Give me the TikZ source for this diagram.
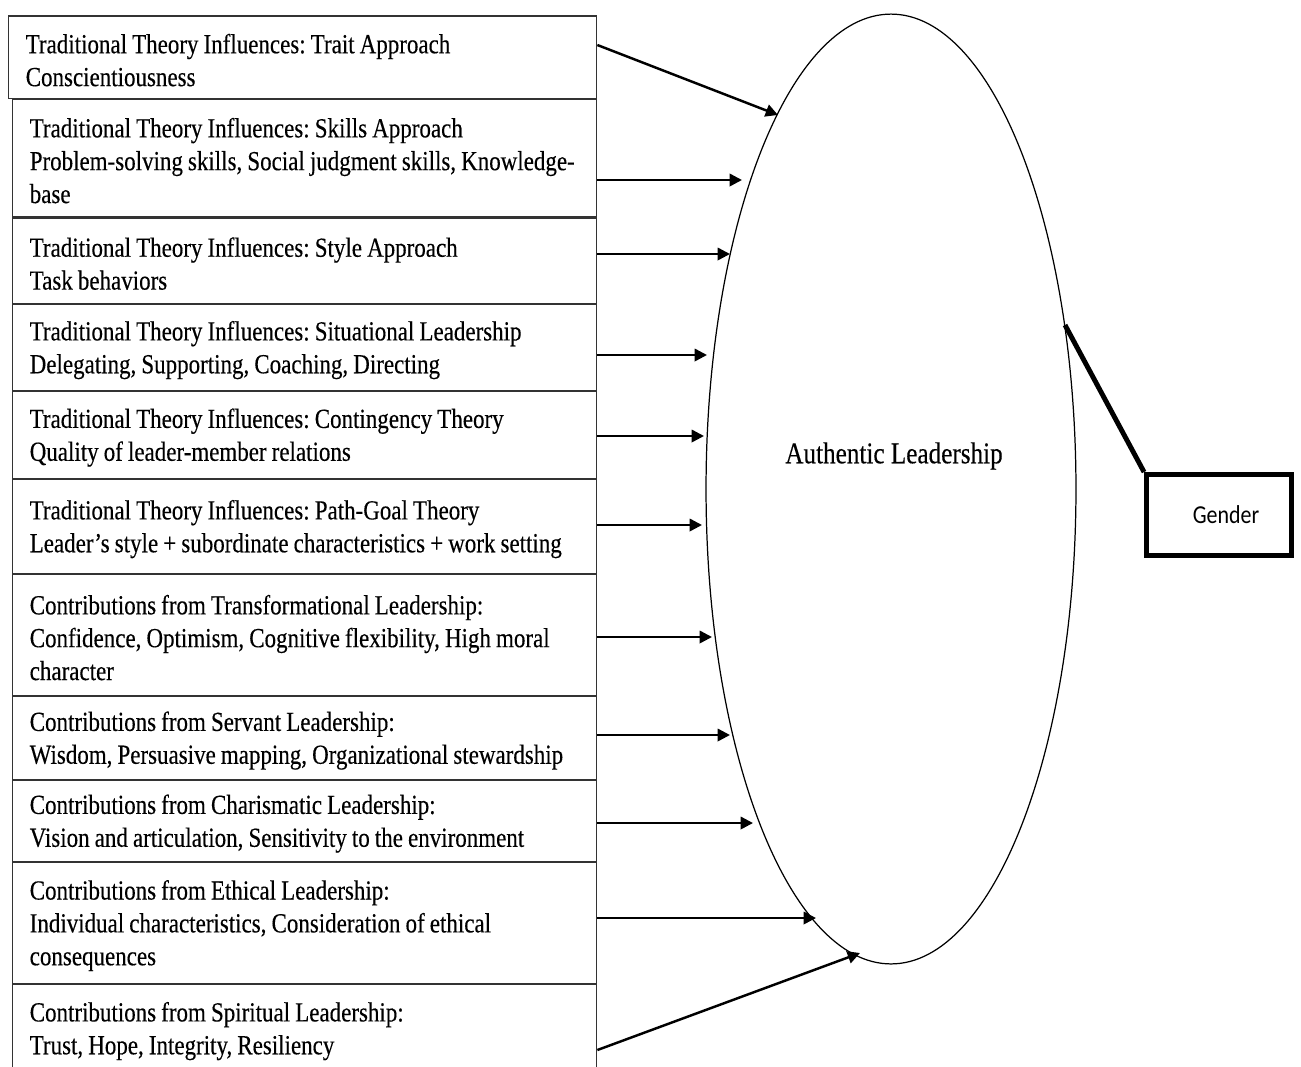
\documentclass[tikz,border=0pt]{standalone}
\usepackage{fontspec}
\setmainfont[FakeStretch=0.833, FakeBold=0.3]{Liberation Serif}
\newfontfamily\genderfont[FakeStretch=0.85]{Carlito}
\usepackage{tikz}
\usetikzlibrary{positioning, arrows.meta, shapes.geometric}
\frenchspacing

\tikzset{
  infl/.style={draw=black!80, line width=0.85pt, anchor=north west, align=left,
    text width=11cm, inner xsep=0.34cm, inner ysep=0pt,
    font=\fontsize{15.7}{18.7}\selectfont,
    execute at begin node={\spaceskip=2.9pt\relax\rule{0pt}{14.3pt}}},
  arr/.style={-{Triangle[length=7pt,width=7pt]}, line width=1.4pt},
}

\begin{document}
\begin{tikzpicture}[x=0.02cm, y=-0.02cm]
\useasboundingbox (0,0) rectangle (1301,1066);

% Influences on the left
\node[infl, text width=11.08cm, minimum height=1.66cm] (t1) at (8,15)
  {Traditional Theory Influences: Trait Approach\\Conscientiousness};
\node[infl, minimum height=2.36cm] (t2) at (12,98)
  {Traditional Theory Influences: Skills Approach\\Problem-solving skills, Social judgment skills, Knowledge-\\base};
\node[infl, minimum height=1.72cm] (t3) at (12,217)
  {Traditional Theory Influences: Style Approach\\Task behaviors};
\node[infl, minimum height=1.74cm] (t4) at (12,303)
  {Traditional Theory Influences: Situational Leadership\\Delegating, Supporting, Coaching, Directing};
\node[infl, minimum height=1.76cm] (t5) at (12,390)
  {Traditional Theory Influences: Contingency Theory\\Quality of leader-member relations};
\node[infl, minimum height=1.9cm] (t6) at (12,478)
  {Traditional Theory Influences: Path-Goal Theory\\Leader’s style + subordinate characteristics + work setting};
\node[infl, minimum height=2.44cm] (t7) at (12,573)
  {Contributions from Transformational Leadership:\\Confidence, Optimism, Cognitive flexibility, High moral\\character};
\node[infl, minimum height=1.68cm] (t8) at (12,695)
  {Contributions from Servant Leadership:\\Wisdom, Persuasive mapping, Organizational stewardship};
\node[infl, minimum height=1.64cm] (t9) at (12,779)
  {Contributions from Charismatic Leadership:\\Vision and articulation, Sensitivity to the environment};
\node[infl, minimum height=2.44cm] (t10) at (12,861)
  {Contributions from Ethical Leadership:\\Individual characteristics, Consideration of ethical\\consequences};
\node[infl, minimum height=1.78cm] (t11) at (12,983)
  {Contributions from Spiritual Leadership:\\Trust, Hope, Integrity, Resiliency};

% Authentic Leadership
\node[ellipse, draw, line width=0.7pt, minimum width=7.4cm, minimum height=19cm,
  inner sep=0pt] (al) at (891,489) {};
\node[font=\fontsize{17.2}{20}\selectfont] (alt) at (894,456) {Authentic Leadership};

% Arrows into the ellipse
\coordinate (p1) at (778,115);
\coordinate (p11) at (860,953);
\draw[arr] (t1.east |- 0,45) -- (p1);
\foreach \i/\x/\y in {2/742/180, 3/730/254, 4/707/355, 5/704/436, 6/702/525,
  7/712/637, 8/730/735, 9/753/823, 10/816/918}{
  \coordinate (p\i) at (\x,\y);
  \draw[arr] (t\i.east |- p\i) -- (p\i);
}
\draw[arr] (t11.east |- 0,1050) -- (p11);

% Gender
\node[draw, line width=2.8pt, minimum width=2.9cm, minimum height=1.62cm,
  font=\genderfont\fontsize{14.7}{17}\selectfont] (gen) at (1219,515)
  {\hspace{0.28cm}Gender};
\coordinate (g0) at (1065,325);
\draw[line width=2.8pt] (g0) -- (gen.north west);
\end{tikzpicture}
\end{document}
